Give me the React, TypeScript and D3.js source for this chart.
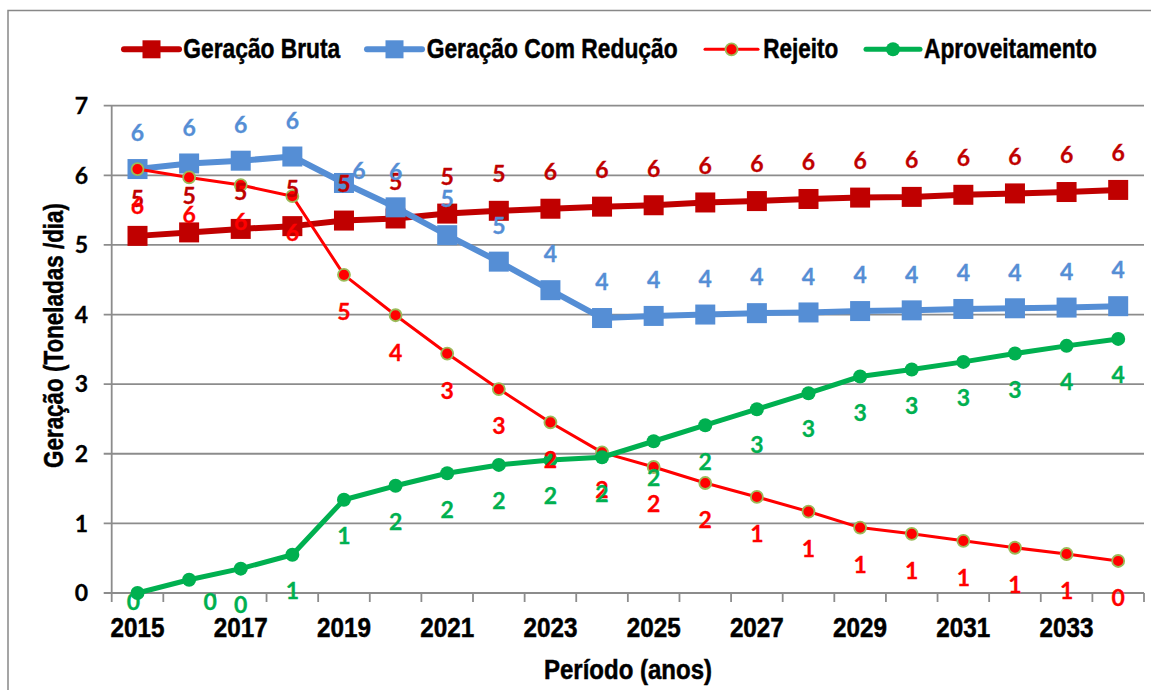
import React from 'react';
import * as d3 from 'd3';

// Data (toneladas/dia)
const years = [
  '2015', '2016', '2017', '2018', '2019', '2020', '2021', '2022', '2023', '2024',
  '2025', '2026', '2027', '2028', '2029', '2030', '2031', '2032', '2033', '2034',
];
const brutaValues = [
  5.13, 5.18, 5.23, 5.27, 5.35, 5.38, 5.45, 5.49, 5.52, 5.55,
  5.57, 5.61, 5.63, 5.66, 5.68, 5.69, 5.72, 5.74, 5.76, 5.79,
];
const reducaoValues = [
  6.09, 6.17, 6.21, 6.27, 5.89, 5.54, 5.14, 4.76, 4.35, 3.95,
  3.98, 4.0, 4.02, 4.03, 4.05, 4.06, 4.08, 4.09, 4.1, 4.12,
];
const rejeitoValues = [
  6.09, 5.97, 5.86, 5.7, 4.57, 3.99, 3.44, 2.93, 2.45, 2.02,
  1.81, 1.58, 1.38, 1.17, 0.94, 0.85, 0.75, 0.65, 0.56, 0.46,
];
const aproveitamentoValues = [
  0.0, 0.19, 0.35, 0.55, 1.34, 1.54, 1.72, 1.84, 1.91, 1.95,
  2.18, 2.41, 2.64, 2.87, 3.11, 3.21, 3.32, 3.44, 3.55, 3.65,
];
const yTicks = [0, 1, 2, 3, 4, 5, 6, 7];
const xTickLabels = ['2015', '2017', '2019', '2021', '2023', '2025', '2027', '2029', '2031', '2033'];

// narrow bold look: Arial-metric font squeezed with textLength
const narrow = "'Liberation Sans', Arimo, Arial, sans-serif";
const labelFont = "Lato, 'Open Sans', sans-serif";

type Series = {
  name: string;
  values: number[];
  color: string;
  width: number;
  marker: 'square' | 'circle';
  size: number;
  stroke?: string;
  labelDy: number;
  // manually moved labels: index -> [dx, dy]
  moved?: Record<number, [number, number]>;
};

const series: Series[] = [
  { name: 'Geração Bruta', values: brutaValues, color: '#C00000', width: 6, marker: 'square', size: 20, labelDy: -37 },
  { name: 'Geração Com Redução', values: reducaoValues, color: '#558ED5', width: 6, marker: 'square', size: 20, labelDy: -36, moved: { 4: [15, -12] } },
  { name: 'Rejeito', values: rejeitoValues, color: '#FF0000', width: 3, marker: 'circle', size: 6, stroke: '#9BBB59', labelDy: 37 },
  { name: 'Aproveitamento', values: aproveitamentoValues, color: '#00B050', width: 5, marker: 'circle', size: 7, labelDy: 36, moved: { 0: [-4, 9], 1: [21, 22] } },
];

// legend layout: line start, line end, text start, text width
const legendLayout: [number, number, number, number][] = [
  [124, 179, 183.3, 157],
  [367, 422, 426.7, 251],
  [705, 758, 763.3, 75],
  [866, 920, 924, 173],
];

const App = () => {
  const width = 1151;
  const height = 690;
  const left = 111.7;
  const right = 1144;
  const top = 105.7;
  const bottom = 593;

  const x = d3.scaleBand().domain(years).range([left, right]).padding(0);
  const y = d3.scaleLinear().domain([0, 7]).range([bottom, top]);
  const cx = (d: string) => (x(d) as number) + x.bandwidth() / 2;

  const line = d3
    .line<number>()
    .x((_, i) => cx(years[i]))
    .y((v) => y(v));

  const boundaries = years.map((d) => x(d) as number).concat([right]);

  const heavy = { stroke: '#000', strokeWidth: 0.5 };

  return (
    <svg
      width={width}
      height={height}
      style={{ position: 'absolute', left: 0, top: 0, background: '#fff' }}
    >
      {/* chart border */}
      <rect x={8} y={10.5} width={1160} height={700} fill="#fff" stroke="#888" strokeWidth={1.5} />

      {/* gridlines */}
      {yTicks.map((t) => (
        <line key={'g' + t} x1={left - 8} x2={right} y1={y(t)} y2={y(t)} stroke="#8C8C8C" strokeWidth={1.8} />
      ))}
      <line x1={left} x2={left} y1={top} y2={bottom} stroke="#8C8C8C" strokeWidth={1.8} />
      {boundaries.map((b, i) => (
        <line key={'t' + i} x1={b} x2={b} y1={bottom} y2={bottom + 9} stroke="#8C8C8C" strokeWidth={1.8} />
      ))}

      {/* y tick labels */}
      {yTicks.map((t) => (
        <text key={'yl' + t} x={88} y={y(t)} dy="0.36em" textAnchor="end" fontFamily={labelFont} fontWeight="bold" fontSize={23} fill="#000" stroke="#000" strokeWidth={0.3}>
          {t}
        </text>
      ))}

      {/* x tick labels */}
      {xTickLabels.map((d) => (
        <text
          key={'xl' + d}
          x={cx(d) - 27}
          y={637}
          textLength={54}
          lengthAdjust="spacingAndGlyphs"
          fontFamily={narrow}
          fontWeight="bold"
          fontSize={27.5}
          fill="#000"
          {...heavy}
        >
          {d}
        </text>
      ))}

      {/* axis titles */}
      <text
        x={628 - 84}
        y={679}
        textLength={168}
        lengthAdjust="spacingAndGlyphs"
        fontFamily={narrow}
        fontWeight="bold"
        fontSize={27.5}
        fill="#000"
        {...heavy}
      >
        Período (anos)
      </text>
      <text
        transform={`translate(63,468) rotate(-90)`}
        textLength={265}
        lengthAdjust="spacingAndGlyphs"
        fontFamily={narrow}
        fontWeight="bold"
        fontSize={27}
        fill="#000"
        {...heavy}
      >
        Geração (Toneladas /dia)
      </text>

      {/* series */}
      {series.map((s) => (
        <g key={s.name}>
          <path d={line(s.values) || ''} fill="none" stroke={s.color} strokeWidth={s.width} strokeLinejoin="round" />
          {s.values.map((v, i) =>
            s.marker === 'square' ? (
              <rect key={i} x={cx(years[i]) - s.size / 2} y={y(v) - s.size / 2} width={s.size} height={s.size} fill={s.color} />
            ) : (
              <circle key={i} cx={cx(years[i])} cy={y(v)} r={s.size} fill={s.color} stroke={s.stroke || s.color} strokeWidth={s.stroke ? 1.8 : 0} />
            )
          )}
        </g>
      ))}

      {/* data labels */}
      {series.map((s) => (
        <g key={'lab' + s.name}>
          {s.values.map((v, i) => {
            const m = s.moved && s.moved[i];
            const dx = m ? m[0] : 0;
            const dy = m ? m[1] : s.labelDy;
            return (
              <text
                key={i}
                x={cx(years[i]) + dx}
                y={y(v) + dy}
                dy="0.36em"
                textAnchor="middle"
                fontFamily={labelFont}
                fontWeight="bold"
                fontSize={23}
                fill={s.color}
                stroke={s.color}
                strokeWidth={0.3}
              >
                {d3.format('.0f')(v)}
              </text>
            );
          })}
        </g>
      ))}

      {/* legend */}
      {series.map((s, i) => {
        const [l1, l2, tx, tw] = legendLayout[i];
        const ly = 49.3;
        const mx = (l1 + l2) / 2;
        return (
          <g key={'leg' + s.name}>
            <line x1={l1} x2={l2} y1={ly} y2={ly} stroke={s.color} strokeWidth={s.width} strokeLinecap="round" />
            {s.marker === 'square' ? (
              <rect x={mx - 9} y={ly - 9} width={18} height={18} fill={s.color} />
            ) : (
              <circle cx={mx} cy={ly} r={s.size} fill={s.color} stroke={s.stroke || s.color} strokeWidth={s.stroke ? 1.8 : 0} />
            )}
            <text
              x={tx}
              y={58.3}
              textLength={tw}
              lengthAdjust="spacingAndGlyphs"
              fontFamily={narrow}
              fontWeight="bold"
              fontSize={28}
              fill="#000"
              {...heavy}
            >
              {s.name}
            </text>
          </g>
        );
      })}
    </svg>
  );
};

export default App;
